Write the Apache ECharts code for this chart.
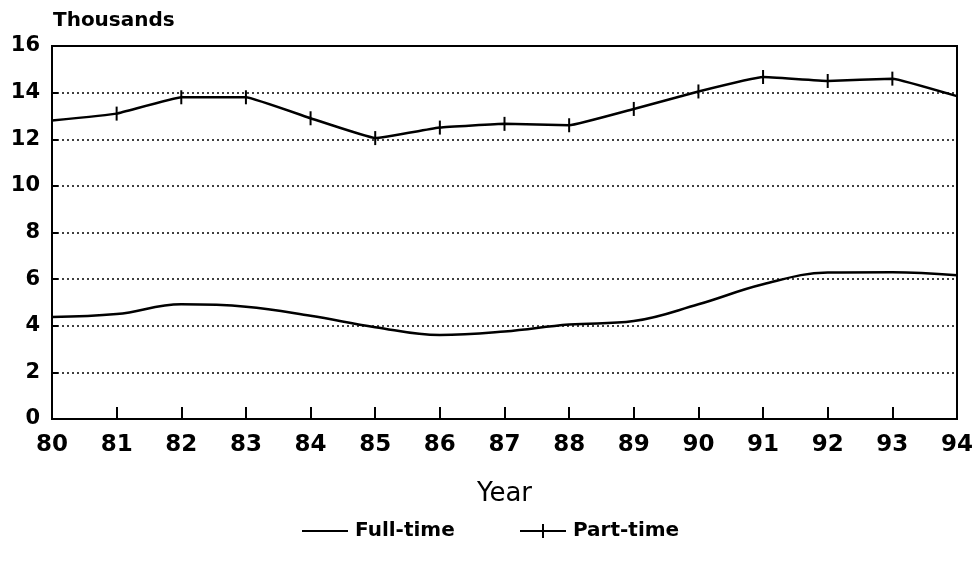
<!DOCTYPE html>
<html>
<head>
<meta charset="utf-8">
<script src="https://cdn.jsdelivr.net/npm/echarts@6/dist/echarts.min.js"></script>
<style>
  html, body { margin: 0; padding: 0; background: #fff; }
  #main { width: 976px; height: 566px; }
</style>
</head>
<body>
<div id="main"></div>
<script>
// years on the x axis
var years = ['80', '81', '82', '83', '84', '85', '86', '87', '88', '89', '90', '91', '92', '93', '94'];
// thousands
var fullTime = [4.38, 4.5, 4.92, 4.82, 4.43, 3.94, 3.6, 3.75, 4.05, 4.2, 4.92, 5.78, 6.28, 6.3, 6.17];
var partTime = [12.8, 13.1, 13.8, 13.8, 12.9, 12.05, 12.5, 12.66, 12.6, 13.3, 14.05, 14.67, 14.5, 14.6, 13.85];
var yTicks = [0, 2, 4, 6, 8, 10, 12, 14, 16];

var myChart = echarts.init(document.getElementById('main'));
var fontFam = '"DejaVu Sans", "Liberation Sans", sans-serif';
var legendText = { color: '#000', fontSize: 20, fontWeight: 'bold', fontFamily: fontFam, padding: [0, 0, 0, 2] };

myChart.setOption({
  backgroundColor: '#fff',
  animation: false,
  title: {
    text: 'Thousands',
    left: 48,
    top: 6,
    textStyle: { color: '#000', fontSize: 20, fontWeight: 'bold', fontFamily: fontFam }
  },
  legend: [
    { // 图例：全职，只有线
      data: ['Full-time'],
      left: 297,
      top: 516,
      icon: 'rect',
      itemWidth: 46,
      itemHeight: 2,
      textStyle: legendText
    },
    { // 图例：兼职，线加十字
      data: ['Part-time'],
      left: 515,
      top: 516,
      icon: 'path://M0,6H22V0H24V6H46V8H24V14H22V8H0Z',
      itemWidth: 46,
      itemHeight: 14,
      textStyle: legendText
    }
  ],
  grid: {
    left: 52,
    right: 18,
    top: 46,
    bottom: 147,
    show: true,
    borderColor: '#000',
    borderWidth: 2
  },
  xAxis: {
    type: 'category',
    data: years,
    boundaryGap: false,
    name: 'Year',
    nameLocation: 'middle',
    nameGap: 62,
    nameTextStyle: { color: '#000', fontSize: 26, fontFamily: fontFam },
    axisLine: { lineStyle: { color: '#000', width: 2 } },
    axisTick: { inside: true, length: 12, interval: 0, lineStyle: { color: '#000', width: 2 } },
    axisLabel: {
      interval: 0,
      margin: 15,
      color: '#000',
      fontSize: 23,
      fontWeight: 'bold',
      fontFamily: fontFam
    },
    splitLine: { show: false }
  },
  yAxis: {
    type: 'value',
    min: yTicks[0],
    max: yTicks[yTicks.length - 1],
    interval: 2,
    axisLine: { show: true, lineStyle: { color: '#000', width: 2 } },
    axisTick: { show: true, inside: true, length: 6, lineStyle: { color: '#000', width: 2 } },
    axisLabel: {
      margin: 12,
      color: '#000',
      fontSize: 21,
      fontWeight: 'bold',
      fontFamily: fontFam
    },
    splitLine: {
      show: true,
      lineStyle: { color: '#000', type: [2, 3], width: 1.5 }
    }
  },
  series: [
    {
      name: 'Full-time',
      type: 'line',
      data: fullTime,
      smooth: 0.4,
      symbol: 'none',
      lineStyle: { color: '#000', width: 2.5 },
      itemStyle: { color: '#000' }
    },
    {
      name: 'Part-time',
      type: 'line',
      data: partTime,
      smooth: 0.08,
      symbol: 'rect',
      symbolSize: [2, 14],
      lineStyle: { color: '#000', width: 2.5 },
      itemStyle: { color: '#000' }
    }
  ]
});
</script>
</body>
</html>
